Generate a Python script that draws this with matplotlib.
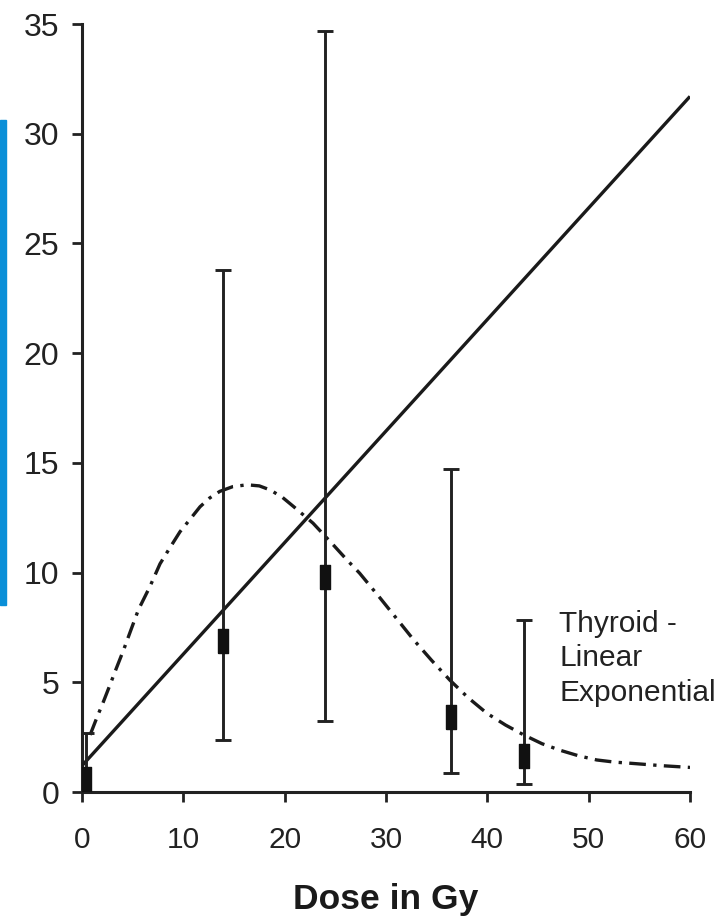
import matplotlib
matplotlib.use("Agg")
import matplotlib.pyplot as plt
from matplotlib.patches import Rectangle

plt.rcParams['font.family'] = ['Liberation Sans', 'DejaVu Sans']

# Observed data (dose in Gy, mean, lower and upper error limits)
dose = [0.4, 13.9, 24.0, 36.4, 43.6]
mean = [0.6, 6.9, 9.8, 3.4, 1.65]
lower = [0.0, 2.35, 3.25, 0.85, 0.35]
upper = [2.7, 23.8, 34.7, 14.7, 7.85]

# Linear fit
lin_x = [0, 60]
lin_y = [1.2, 31.7]

# Linear-exponential fit
le_x = [0.8, 1.45, 2.1, 2.76, 3.4, 4.1, 4.8, 5.56, 6.7, 7.7, 8.7, 9.67, 10.7,
        11.65, 12.6, 13.6, 14.9, 16.3, 17.5, 18.6, 19.8, 20.9, 22.8, 24.8,
        26.1, 27.4, 29.4, 31.4, 32.7, 34.5, 36.3, 38.1, 39.95, 41.8, 43.6,
        45.4, 47.2, 49.0, 50.8, 52.6, 54.4, 57.2, 60.0]
le_y = [2.6, 3.37, 4.1, 4.88, 5.65, 6.47, 7.35, 8.3, 9.36, 10.4, 11.15, 11.86,
        12.45, 13.0, 13.4, 13.7, 13.92, 14.0, 13.95, 13.76, 13.42, 13.0, 12.25,
        11.26, 10.6, 9.97, 8.85, 7.7, 6.95, 6.0, 5.1, 4.3, 3.59, 3.05, 2.6,
        2.2, 1.9, 1.65, 1.46, 1.36, 1.3, 1.2, 1.12]

x_ticks = [0, 10, 20, 30, 40, 50, 60]
y_ticks = [0, 5, 10, 15, 20, 25, 30, 35]

fig = plt.figure(figsize=(7.24, 9.18), dpi=100)
ax = fig.add_axes([82/724, 1-792/918, (690-82)/724, (792-24)/918])

ax.plot(lin_x, lin_y, color='#1a1a1a', lw=2.4, solid_capstyle='butt', zorder=3)
ax.plot(le_x, le_y, color='#1a1a1a', lw=2.4, linestyle=(0, (5, 2.2, 1, 2.2)), zorder=3)

yerr = [[m - l for m, l in zip(mean, lower)], [u - m for m, u in zip(mean, upper)]]
rect = [(-1, -2.4), (1, -2.4), (1, 2.4), (-1, 2.4), (-1, -2.4)]
ax.errorbar(dose, mean, yerr=yerr, fmt='none', ecolor='#222222', elinewidth=2.1,
            capsize=5.5, capthick=2.1, zorder=4)
ax.plot(dose, mean, linestyle='none', marker=rect, markersize=17, color='#111111',
        zorder=5)

ax.text(47.1, 8.3, 'Thyroid -\nLinear\nExponential', fontsize=21.5, color='#222222',
        va='top', ha='left', linespacing=1.3)

ax.set_xlim(0, 60)
ax.set_ylim(0, 35)
ax.set_xticks(x_ticks)
ax.set_yticks(y_ticks)
ax.tick_params(direction='out', length=7.5, width=2, colors='#222222')
ax.tick_params(axis='y', labelsize=23, pad=9)
ax.tick_params(axis='x', labelsize=21.5, pad=17)
for s in ['top', 'right']:
    ax.spines[s].set_visible(False)
for s in ['left', 'bottom']:
    ax.spines[s].set_linewidth(2.2)
    ax.spines[s].set_color('#222222')

ax.set_xlabel('Dose in Gy', fontsize=25.5, fontweight='bold', color='#1a1a1a', labelpad=21)

# Blue strip from the cropped page at the left edge
fig.patches.append(Rectangle((0, 1-605/918), 6/724, (605-120)/918,
                             transform=fig.transFigure, color='#0a8fd8', zorder=0))

fig.savefig('out.png', dpi=100)
